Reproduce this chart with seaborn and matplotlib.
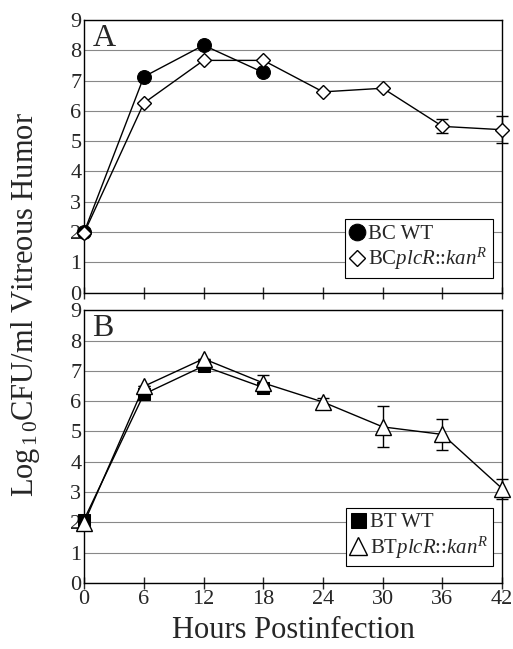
import matplotlib
matplotlib.use("Agg")
import matplotlib.pyplot as plt
import numpy as np
import pandas as pd
import seaborn as sns

# data
hours = [0, 6, 12, 18, 24, 30, 36, 42]

bc_wt_hours = [0, 6, 12, 18]
bc_wt = [2.0, 7.13, 8.17, 7.27]
bc_mut = [1.97, 6.26, 7.67, 7.67, 6.63, 6.75, 5.49, 5.38]
bc_mut_err = [0, 0, 0, 0, 0, 0, 0.23, 0.44]

bt_wt_hours = [0, 6, 12, 18]
bt_wt = [2.09, 6.23, 7.16, 6.45]
bt_mut = [1.98, 6.49, 7.40, 6.60, 5.97, 5.15, 4.90, 3.11]
bt_mut_err = [0, 0, 0, 0.27, 0.14, 0.68, 0.50, 0.33]

sns.set_style("white")
plt.rcParams["font.family"] = ["Liberation Serif", "DejaVu Serif"]
plt.rcParams["mathtext.fontset"] = "custom"
plt.rcParams["mathtext.rm"] = "Liberation Serif"
plt.rcParams["mathtext.it"] = "Liberation Serif:italic"

fig, (ax1, ax2) = plt.subplots(2, 1, figsize=(5.13, 6.49), dpi=100)
fig.subplots_adjust(left=0.164, right=0.979, top=0.969, bottom=0.102, hspace=0.065)


def panel(ax, wt_hours, wt, mut, err, wt_marker, mut_marker, wt_label, mut_label,
          letter, show_x, leg_y):
    df_wt = pd.DataFrame({"h": wt_hours, "v": wt})
    df_mut = pd.DataFrame({"h": hours, "v": mut})
    ax.errorbar(hours, mut, yerr=err, fmt="none", ecolor="black", elinewidth=1,
                capsize=4, capthick=1, zorder=2, clip_on=False)
    sns.lineplot(data=df_wt, x="h", y="v", ax=ax, color="black", lw=1,
                 marker=wt_marker, markersize=10 if wt_marker == "o" else 9,
                 markerfacecolor="black", markeredgecolor="black",
                 label=wt_label, zorder=3, clip_on=False)
    sns.lineplot(data=df_mut, x="h", y="v", ax=ax, color="black", lw=1,
                 marker=mut_marker, markersize=7 if mut_marker == "D" else 11,
                 markerfacecolor="white", markeredgecolor="black", markeredgewidth=1,
                 label=mut_label, zorder=4, clip_on=False)
    ax.set_xlim(0, 42)
    ax.set_ylim(0, 9)
    ax.set_yticks(range(10))
    ax.set_xticks(hours)
    ax.grid(axis="y", color="#888888", lw=0.8)
    ax.set_axisbelow(True)
    for s in ax.spines.values():
        s.set_color("black")
        s.set_linewidth(1)
    ax.tick_params(axis="y", length=0, labelsize=16, pad=2)
    ax.tick_params(axis="x", direction="inout", length=9, width=1, labelsize=16,
                   bottom=True, labelbottom=show_x, pad=1)
    ax.set_xlabel("")
    ax.set_ylabel("")
    ax.text(0.02, 0.985, letter, transform=ax.transAxes, fontsize=23,
            va="top", ha="left")
    leg = ax.legend(loc="lower right", bbox_to_anchor=(0.978, leg_y), fontsize=15,
                    handlelength=0.7, handletextpad=0.2, borderpad=0.25,
                    labelspacing=0.1, fancybox=False, framealpha=1,
                    edgecolor="black", borderaxespad=0, markerscale=1.2)
    leg.get_frame().set_linewidth(0.8)
    for h in leg.legend_handles:
        h.set_linestyle("none")


panel(ax1, bc_wt_hours, bc_wt, bc_mut, bc_mut_err, "o", "D",
      "BC WT", r"BC$\mathit{plcR}$::$\mathit{kan}^{R}$", "A", False, 0.055)
panel(ax2, bt_wt_hours, bt_wt, bt_mut, bt_mut_err, "s", "^",
      "BT WT", r"BT$\mathit{plcR}$::$\mathit{kan}^{R}$", "B", True, 0.062)

ax2.set_xlabel("Hours Postinfection", fontsize=22, labelpad=5)
fig.text(0.05, 0.53, r"Log$_{\,1\,0}$CFU/ml Vitreous Humor", rotation=90,
         fontsize=22, ha="center", va="center")

fig.savefig("out.png", dpi=100)
